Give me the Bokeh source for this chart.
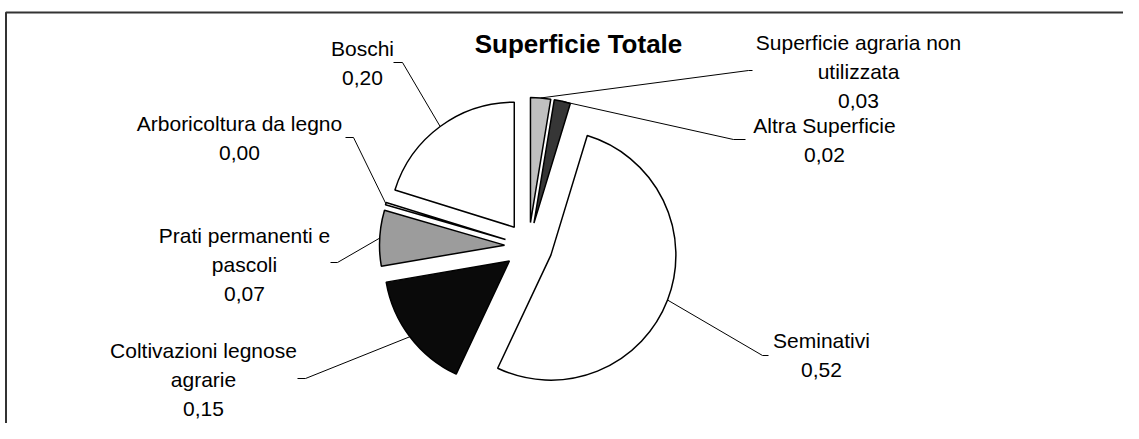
import math
from bokeh.plotting import figure
from bokeh.models import Range1d, ColumnDataSource
from bokeh.core.properties import value
from bokeh.embed import file_html
from bokeh.resources import INLINE

# ---------------- data ----------------
categories = [
    "Superficie agraria non utilizzata",
    "Altra Superficie",
    "Seminativi",
    "Coltivazioni legnose agrarie",
    "Prati permanenti e pascoli",
    "Arboricoltura da legno",
    "Boschi",
]
shares = [0.026, 0.021, 0.523, 0.153, 0.072, 0.003, 0.202]
title_text = "Superficie Totale"

# ---------------- style / layout ----------------
colors = ["#c0c0c0", "#363636", "#ffffff", "#0a0a0a", "#9c9c9c", "#ffffff", "#ffffff"]
words_first_line = [3, None, None, 2, 3, None, None]
# label block anchor (reference pixel coords: centre x, first-line y)
label_pos = [(858, 42), (824, 125), (821, 340), (203, 350), (244, 235), (239, 123), (362, 48)]
# leader tail (outer end, inner end) in reference pixel coords
tails = [((752, 70), (748, 70)), ((745, 139), (733, 139)), ((768, 355), (762, 355)),
         ((297, 378), (305, 378)), ((330, 262), (337, 262)), ((345, 137), (353, 137)),
         ((393, 62), (402, 62))]
LINE_H = 29
CX, CY = 528, 246      # pie centre (reference px)
R = 125                # radius
EXPLODE = 24           # explosion offset

W, H = 1123, 423


def tx(x):
    return x


def ty(y):
    return H - y


p = figure(width=W, height=H, x_range=Range1d(0, W), y_range=Range1d(0, H),
           output_backend="svg", toolbar_location=None, min_border=0,
           background_fill_color="white", border_fill_color="white")
p.axis.visible = False
p.grid.visible = False
p.outline_line_color = None

# chart frame (top and left sides visible)
p.line([tx(5.5), tx(5.5), tx(1139)], [ty(450), ty(12), ty(12)], line_color="#333333", line_width=2)

# wedges
total = sum(shares)
xs, ys, starts, ends, mids = [], [], [], [], []
cum = 0.0
for v in shares:
    f0 = cum / total
    f1 = (cum + v) / total
    cum += v
    fm = (f0 + f1) / 2
    m = math.pi / 2 - 2 * math.pi * fm
    mids.append(m)
    xs.append(tx(CX) + EXPLODE * math.cos(m))
    ys.append(ty(CY) + EXPLODE * math.sin(m))
    starts.append(math.pi / 2 - 2 * math.pi * f1)
    ends.append(math.pi / 2 - 2 * math.pi * f0)

src = ColumnDataSource(dict(x=xs, y=ys, start=starts, end=ends, color=colors, cat=categories))
p.wedge(x="x", y="y", radius=R, start_angle="start", end_angle="end", direction="anticlock",
        fill_color="color", line_color="black", line_width=1.5, source=src)

# leader lines
lx, ly = [], []
for i, m in enumerate(mids):
    ax = tx(CX) + (EXPLODE + R) * math.cos(m)
    ay = ty(CY) + (EXPLODE + R) * math.sin(m)
    (o, inn) = tails[i]
    lx.append([tx(o[0]), tx(inn[0]), ax])
    ly.append([ty(o[1]), ty(inn[1]), ay])
p.multi_line(xs=lx, ys=ly, line_color="black", line_width=1)

# labels
tx_l, ty_l, tt = [], [], []
for i, name in enumerate(categories):
    words = name.split(" ")
    n = words_first_line[i]
    lines = [name] if n is None else [" ".join(words[:n]), " ".join(words[n:])]
    lines.append(f"{shares[i]:.2f}".replace(".", ","))
    cx, cy = label_pos[i]
    for k, ln in enumerate(lines):
        tx_l.append(tx(cx))
        ty_l.append(ty(cy + k * LINE_H))
        tt.append(ln)
p.text(x=tx_l, y=ty_l, text=tt, text_align="center", text_baseline="middle",
       text_font=value("Liberation Sans"), text_font_size="21px", text_color="black")

# title
p.text(x=[tx(578)], y=[ty(43)], text=[title_text], text_align="center", text_baseline="middle",
       text_font=value("Liberation Sans"), text_font_size="26px", text_font_style="bold",
       text_color="black")

open("out.html", "w").write(file_html(p, INLINE))
